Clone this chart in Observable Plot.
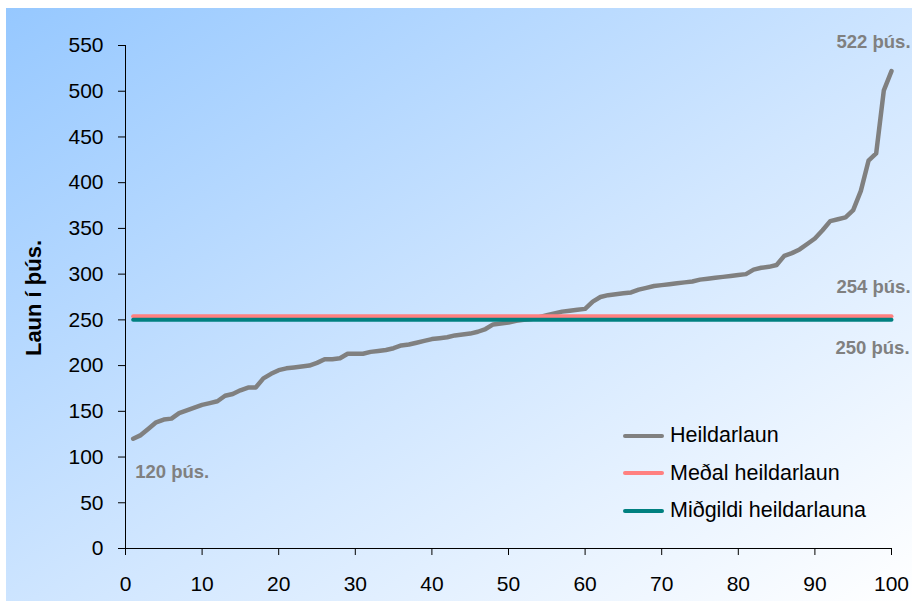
<!DOCTYPE html>
<html><head><meta charset="utf-8">
<script src="https://cdn.jsdelivr.net/npm/d3@7"></script>
<script src="https://cdn.jsdelivr.net/npm/@observablehq/plot@0.6"></script>
<style>
body{margin:0;background:#fff;}
#wrap{position:relative;width:912px;height:601px;overflow:hidden;font-family:"Liberation Sans",Arial,sans-serif;}
#bg{position:absolute;left:6px;top:8px;right:0;bottom:0;background:linear-gradient(to bottom right,#96C8FF 0%,#D2E7FF 55%,#FFFFFF 100%);}
#chart{position:absolute;left:0;top:0;}
#legend{position:absolute;left:623px;top:417px;font-size:21.5px;color:#000;}
.item{display:flex;align-items:center;height:37.5px;}
.sw{width:41px;height:4px;border-radius:2px;margin-right:6px;}
</style></head><body>
<div id="wrap"><div id="bg"></div><div id="chart"></div><div id="legend"></div></div>
<script>
// Rank (percentile position) 1..100
const rank = d3.range(1, 101);
// Heildarlaun (total wages, thousands ISK), sorted
const heildarlaun = [
120,124,131,138,141,142,148,151,154,157,
159,161,167,169,173,176,176,186,191,195,
197,198,199,200,203,207,207,208,213,213,
213,215,216,217,219,222,223,225,227,229,
230,231,233,234,235,237,240,245,246,247,
249,250,251,253,255,257,259,260,261,262,
270,275,277,278,279,280,283,285,287,288,
289,290,291,292,294,295,296,297,298,299,
300,305,307,308,310,320,323,327,333,339,
348,358,360,362,370,391,424,432,501,522];
const medalHeildarlaun = 254;
const midgildiHeildarlauna = 250;
const seriesNames = ["Heildarlaun", "Meðal heildarlaun", "Miðgildi heildarlauna"];
const seriesColors = ["#808080", "#FF8080", "#008080"];
const xTicks = d3.range(0, 101, 10);
const yTicks = d3.range(0, 551, 50);
const yTitle = "Laun í þús.";
const annotX = [100, 100, 100, 1];
const annotY = [522, 254, 250, 120];
const annotText = ["522 þús.", "254 þús.", "250 þús.", "120 þús."];

const mainData = rank.map((r, i) => ({r, v: heildarlaun[i]}));
const meanData = rank.map(r => ({r, v: medalHeildarlaun}));
const medData = rank.map(r => ({r, v: midgildiHeildarlauna}));
const annots = annotText.map((t, i) => ({x: annotX[i], y: annotY[i], t, i}));

const font = "Liberation Sans, Arial, sans-serif";
const annStyle = {x: "x", y: "y", text: "t", textAnchor: "start", fill: "#808080", fontWeight: "bold", fontSize: 18.5};
const plot = Plot.plot({
  width: 912, height: 601,
  marginLeft: 125, marginRight: 21, marginTop: 45, marginBottom: 53,
  style: {background: "transparent", fontFamily: font, color: "#000"},
  x: {domain: [0, 100]},
  y: {domain: [0, 550]},
  marks: [
    Plot.axisY({ticks: yTicks, tickSize: 7, tickPadding: 15, fontSize: 21, label: null, stroke: "#000"}),
    Plot.axisX({ticks: xTicks, tickSize: 7, tickPadding: 21, fontSize: 21, label: null, stroke: "#000"}),
    Plot.ruleX([0], {stroke: "#000", strokeWidth: 1}),
    Plot.ruleY([0], {stroke: "#000", strokeWidth: 1}),
    Plot.line(mainData, {x: "r", y: "v", stroke: seriesColors[0], strokeWidth: 4.5, strokeLinejoin: "round"}),
    Plot.line(meanData, {x: "r", y: "v", stroke: seriesColors[1], strokeWidth: 4}),
    Plot.line(medData, {x: "r", y: "v", stroke: seriesColors[2], strokeWidth: 4}),
    Plot.text(annots.filter(d => d.i < 2), {...annStyle, dx: -55, dy: -29}),
    Plot.text(annots.filter(d => d.i === 2), {...annStyle, dx: -56, dy: 28}),
    Plot.text(annots.filter(d => d.i === 3), {...annStyle, dx: 2, dy: 33}),
    Plot.text([yTitle], {frameAnchor: "left", textAnchor: "middle", rotate: -90, dx: -92, dy: 1, fontWeight: "bold", fontSize: 22, fill: "#000"})
  ]
});
document.getElementById("chart").appendChild(plot);

const leg = document.getElementById("legend");
seriesNames.forEach((n, i) => {
  const it = document.createElement("div"); it.className = "item";
  const sw = document.createElement("div"); sw.className = "sw"; sw.style.background = seriesColors[i];
  const tx = document.createElement("span"); tx.textContent = n;
  it.appendChild(sw); it.appendChild(tx); leg.appendChild(it);
});
</script>
</body></html>
